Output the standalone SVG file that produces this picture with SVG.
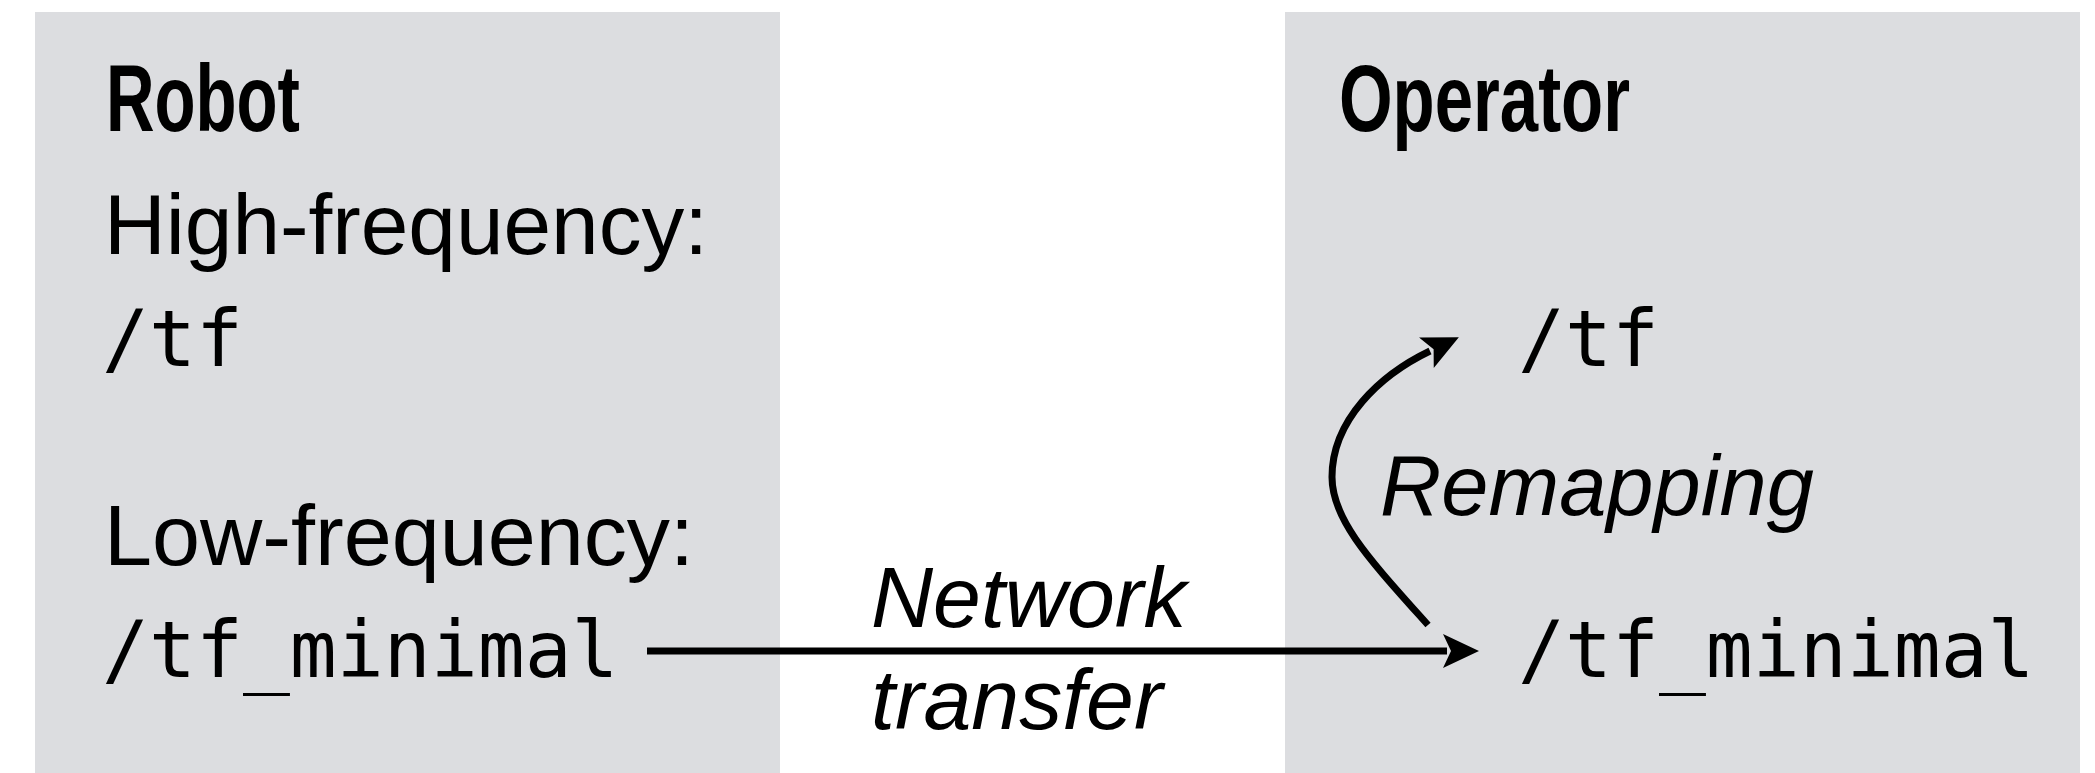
<svg xmlns="http://www.w3.org/2000/svg" width="2095" height="773" viewBox="0 0 2095 773">
<style>
.box{fill:#dcdde0}
.head{font-family:"Liberation Sans",Arial,sans-serif;font-weight:bold;font-size:94px;fill:#000}
.reg{font-family:"Liberation Sans",Arial,sans-serif;font-size:86px;fill:#000}
.ital{font-family:"Liberation Sans",Arial,sans-serif;font-style:italic;font-size:86px;fill:#000}
.mono{font-family:"DejaVu Sans Mono","Liberation Mono",monospace;font-size:78px;fill:#000}
.conn{fill:none;stroke:#000;stroke-width:7}
</style>
<defs>
<marker id="arr" markerUnits="userSpaceOnUse" markerWidth="40" markerHeight="40" viewBox="0 -20 40 40" refX="4" refY="0" orient="auto">
<path d="M0,-17 L36,0 L0,17 L8,0 Z" fill="#000"/>
</marker>
</defs>
<rect width="2095" height="773" fill="#fff"/>
<g id="robot">
<rect class="box" x="35" y="12" width="745" height="761"/>
<text class="head" x="106" y="131" textLength="194" lengthAdjust="spacingAndGlyphs">Robot</text>
<text class="reg" x="104" y="254" textLength="604" lengthAdjust="spacingAndGlyphs">High-frequency:</text>
<text class="mono" x="102" y="366">/tf</text>
<text class="reg" x="104" y="565" textLength="590" lengthAdjust="spacingAndGlyphs">Low-frequency:</text>
<text class="mono" x="102" y="677">/tf_minimal</text>
</g>
<g id="operator">
<rect class="box" x="1285" y="12" width="795" height="761"/>
<text class="head" x="1339" y="131" textLength="291" lengthAdjust="spacingAndGlyphs">Operator</text>
<text class="mono" x="1518" y="366">/tf</text>
<text class="mono" x="1518" y="677">/tf_minimal</text>
</g>
<g id="connectors">
<line class="conn" x1="647" y1="651" x2="1447" y2="651" marker-end="url(#arr)"/>
<path class="conn" d="M1428,625 C1370,560 1332,520 1332,477 C1332,420 1380,375 1430,351" marker-end="url(#arr)"/>
</g>
<g id="labels">
<text class="ital" x="871" y="627">Network</text>
<text class="ital" x="871" y="729">transfer</text>
<text class="ital" x="1380" y="515" textLength="434" lengthAdjust="spacingAndGlyphs">Remapping</text>
</g>
</svg>
